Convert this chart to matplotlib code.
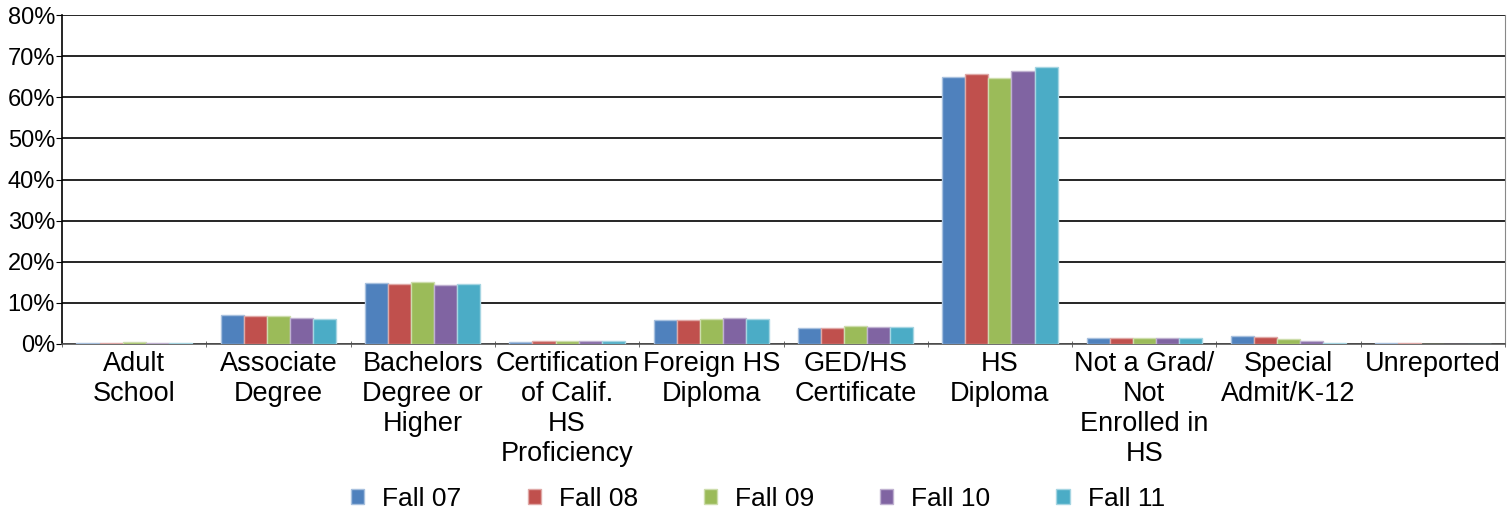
import numpy as np
import matplotlib
matplotlib.use("Agg")
import matplotlib.pyplot as plt
from matplotlib.ticker import FuncFormatter

plt.rcParams["font.family"] = ["Liberation Sans", "DejaVu Sans"]

categories = [
    "Adult\nSchool", "Associate\nDegree", "Bachelors\nDegree or\nHigher",
    "Certification\nof Calif.\nHS\nProficiency", "Foreign HS\nDiploma",
    "GED/HS\nCertificate", "HS\nDiploma", "Not a Grad/\nNot\nEnrolled in\nHS",
    "Special\nAdmit/K-12", "Unreported",
]
terms = ["Fall 07", "Fall 08", "Fall 09", "Fall 10", "Fall 11"]

fall07 = [0.3, 7.1, 14.9, 0.5, 5.9, 4.0, 64.9, 1.4, 2.0, 0.3]
fall08 = [0.3, 6.7, 14.6, 0.8, 5.9, 4.0, 65.7, 1.5, 1.8, 0.3]
fall09 = [0.5, 6.8, 15.0, 0.8, 6.1, 4.4, 64.7, 1.5, 1.3, 0.1]
fall10 = [0.3, 6.3, 14.4, 0.8, 6.4, 4.2, 66.4, 1.5, 0.8, 0.1]
fall11 = [0.3, 6.1, 14.6, 0.8, 6.1, 4.2, 67.4, 1.4, 0.3, 0.1]
series = [fall07, fall08, fall09, fall10, fall11]

colors = ["#4F81BD", "#C0504D", "#9BBB59", "#8064A2", "#4BACC6"]
edges = ["#A7C0DE", "#DFA8A6", "#CDDDAC", "#BFB1D0", "#A5D5E2"]

fig = plt.figure(figsize=(15.07, 5.17), dpi=100)
ax = fig.add_axes([62 / 1507, 1 - 344 / 517, (1505 - 62) / 1507, (344 - 15) / 517])

x = np.arange(len(categories))
w = 0.8 / len(series)
for i, (vals, c, ec) in enumerate(zip(series, colors, edges)):
    ax.bar(x - 0.4 + w * (i + 0.5), vals, width=w, color=c, edgecolor=ec,
           linewidth=1.0, label=terms[i], zorder=3)

ax.set_xlim(-0.5, len(categories) - 0.5)
ax.set_ylim(0, 80)
ax.set_yticks(np.arange(0, 81, 10))
ax.yaxis.set_major_formatter(FuncFormatter(lambda v, p: f"{v:.0f}%"))
ax.grid(axis="y", color="black", linewidth=1.2, zorder=0)
ax.set_axisbelow(True)

ax.set_xticks(x)
ax.set_xticklabels(categories, fontsize=19.5, linespacing=1.2)
ax.set_xticks(np.arange(-0.5, len(categories), 1), minor=True)
ax.tick_params(axis="x", which="major", length=0, pad=5)
ax.tick_params(axis="x", which="minor", length=4, direction="inout", color="#555555")
ax.tick_params(axis="y", labelsize=17, length=4, pad=1, color="black")

ax.spines["top"].set_visible(False)
ax.spines["left"].set_color("black")
ax.spines["left"].set_linewidth(1.2)
ax.spines["right"].set_color("#888888")
ax.spines["bottom"].set_color("#555555")
ax.spines["bottom"].set_linewidth(1.2)

fig.legend(loc="lower center", bbox_to_anchor=(0.503, -0.035), ncol=5, frameon=False,
           fontsize=19, handlelength=0.5, handleheight=0.5, handletextpad=0.68,
           columnspacing=2.5)

fig.savefig("out.png", dpi=100)
